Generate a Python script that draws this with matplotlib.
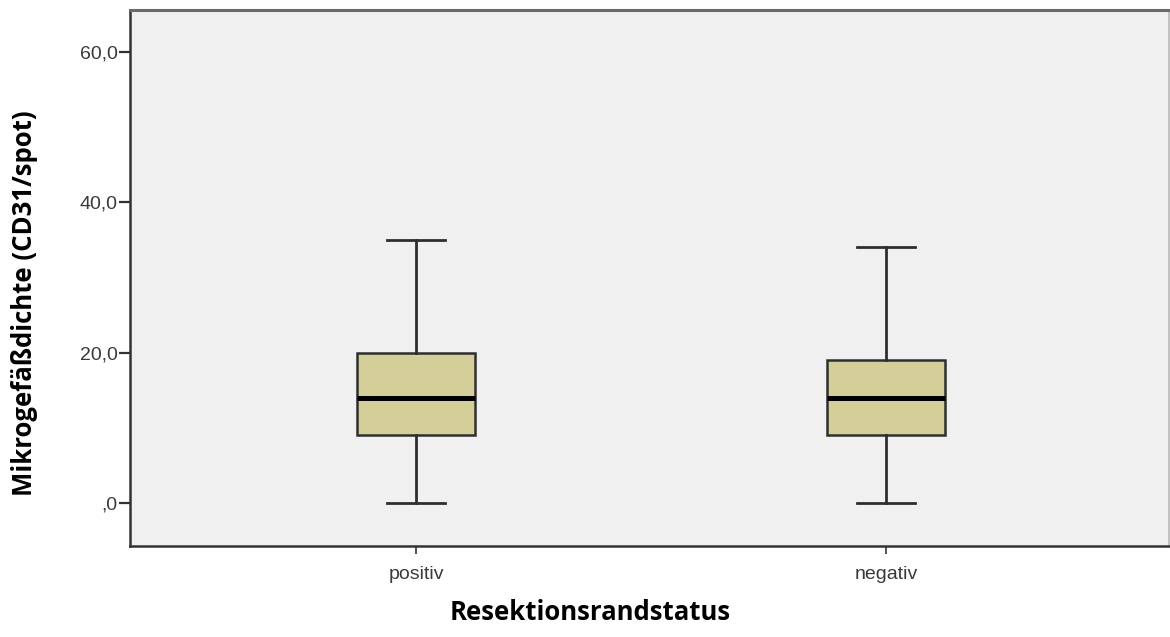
import matplotlib
matplotlib.use("Agg")
import matplotlib.pyplot as plt

# Box plot summary statistics per resection margin status
categories = ["positiv", "negativ"]
whisker_low = [0.0, 0.0]
q1 = [9.0, 9.0]
median = [14.0, 14.0]
q3 = [20.0, 19.0]
whisker_high = [35.0, 34.0]

y_ticks = [0, 20, 40, 60]
y_tick_labels = [",0", "20,0", "40,0", "60,0"]

fig = plt.figure(figsize=(11.7, 6.37), dpi=100)
ax = fig.add_axes([130 / 1170, 1 - 545.5 / 637, 1039 / 1170, 535.5 / 637])
ax.set_facecolor("#f0f0f0")

stats = []
for i, name in enumerate(categories):
    stats.append(dict(label=name, whislo=whisker_low[i], q1=q1[i], med=median[i],
                      q3=q3[i], whishi=whisker_high[i], fliers=[]))

positions = list(range(1, len(categories) + 1))
edge = "#2e2e2e"
ax.bxp(stats, positions=positions, widths=0.25, patch_artist=True,
       showfliers=False,
       boxprops=dict(facecolor="#d4cf98", edgecolor=edge, linewidth=1.8),
       medianprops=dict(color="#000000", linewidth=3.6, solid_capstyle="butt"),
       whiskerprops=dict(color=edge, linewidth=2.0),
       capprops=dict(color=edge, linewidth=2.0),
       capwidths=0.125)

ax.set_xlim(0.3915, 2.602)
ax.set_ylim(-5.65, 65.6)

ax.set_yticks(y_ticks)
ax.set_yticklabels(y_tick_labels)
ax.set_xticks(positions)
ax.set_xticklabels(categories)

for lab in ax.get_yticklabels() + ax.get_xticklabels():
    lab.set_fontfamily("Liberation Sans")
    lab.set_fontsize(14)
    lab.set_color("#3a3a3a")

ax.tick_params(axis="y", direction="out", length=8, width=1.6, color="#333333", pad=1)
ax.tick_params(axis="x", direction="out", length=6, width=1.2, color="#333333", pad=9)

for side in ["left", "bottom"]:
    ax.spines[side].set_color("#333333")
    ax.spines[side].set_linewidth(1.8)
ax.spines["top"].set_color("#6a6a6a")
ax.spines["top"].set_linewidth(2.2)
ax.spines["right"].set_color("#b8b8b8")
ax.spines["right"].set_linewidth(1.2)

label_font = dict(family=["Open Sans", "DejaVu Sans"], weight="bold", size=18.5)
fig.text(590 / 1170, 1 - 612 / 637, "Resektionsrandstatus", ha="center", va="center",
         **label_font)
fig.text(25 / 1170, 1 - 303 / 637, "Mikrogefäßdichte (CD31/spot)", ha="center", va="center",
         rotation=90, **label_font)

fig.savefig("out.png", dpi=100, facecolor="white")
